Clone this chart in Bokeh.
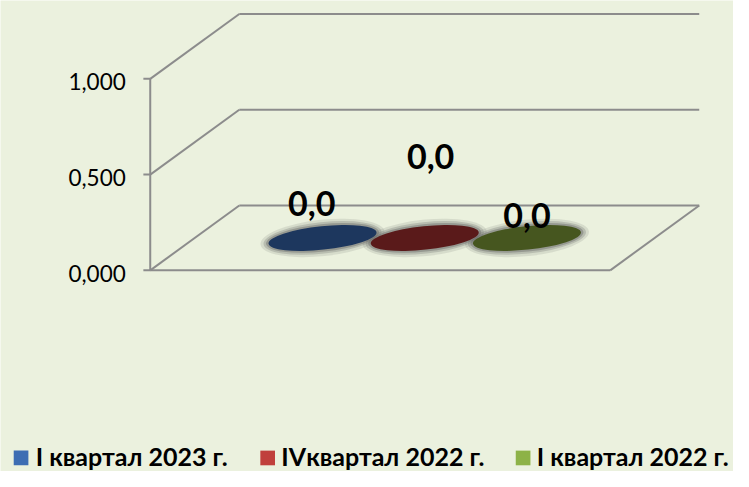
import math
from bokeh.plotting import figure
from bokeh.models import Range1d
from bokeh.core.properties import value
from bokeh.embed import file_html
from bokeh.resources import INLINE

# ---------------- data ----------------
series = ["I квартал 2023 г.", "IVквартал 2022 г.", "I квартал 2022 г."]
values = [0.0, 0.0, 0.0]
data_labels = ["0,0", "0,0", "0,0"]
tick_values = [0.0, 0.5, 1.0]
tick_labels = ["0,000", "0,500", "1,000"]

# ---------------- style ----------------
ellipse_colors = ["#1D375E", "#5A1A1A", "#46561F"]
legend_colors = ["#3D6DB3", "#C0403C", "#8DB247"]
label_dx = [-11, 6, 0]      # px shift of data labels
label_dy = [36, 84, 23]     # px of label centre above cylinder top
legend_square_x = [21, 273, 534]
legend_text_x = [36, 287, 548]

BG = "#EBF1DE"
GRID = "#8C8C8C"

PX_PER_UNIT = 198.0          # reference pixels per value unit
Y0 = 279.0                   # reference y of value 0 on the front plane
FRONT_X0, FRONT_X1 = 153.0, 623.0
DEPTH_DX, DEPTH_DY = 91.0, 67.0
DV = DEPTH_DY / PX_PER_UNIT
V_MAX = max(tick_values)
REF_W, REF_H = 749.0, 487.0

W, H = 733, 471
S = W / REF_W   # screen scale

def pv(px):
    """convert a reference y pixel to value units"""
    return (Y0 - px) / PX_PER_UNIT

p = figure(width=W, height=H, output_backend="svg", toolbar_location=None,
           title=None,
           x_range=Range1d(0, REF_W), y_range=Range1d(pv(REF_H), pv(0)),
           x_axis_type=None, y_axis_type=None, min_border=0,
           background_fill_color=BG, border_fill_color=BG, outline_line_color=None)
p.grid.visible = False

# ---------------- walls / gridlines ----------------
x0s, y0s, x1s, y1s = [], [], [], []
for t in tick_values:
    x0s.append(FRONT_X0); y0s.append(t)
    x1s.append(FRONT_X0 + DEPTH_DX); y1s.append(t + DV)
    x0s.append(FRONT_X0 + DEPTH_DX); y0s.append(t + DV)
    x1s.append(FRONT_X1 + DEPTH_DX); y1s.append(t + DV)
x0s += [FRONT_X0, FRONT_X1]; y0s += [0.0, 0.0]
x1s += [FRONT_X1, FRONT_X1 + DEPTH_DX]; y1s += [0.0, DV]
x0s.append(FRONT_X0); y0s.append(0.0); x1s.append(FRONT_X0); y1s.append(V_MAX)
for t in tick_values:
    x0s.append(FRONT_X0 - 7); y0s.append(t); x1s.append(FRONT_X0); y1s.append(t)
p.segment(x0=x0s, y0=y0s, x1=x1s, y1=y1s, line_color=GRID, line_width=2)

# tick labels
p.text(x=[FRONT_X0 - 25] * len(tick_values), y=[t - 3 / PX_PER_UNIT for t in tick_values],
       text=tick_labels, text_font=value("Lato"), text_font_size="22.5px",
       text_align="right", text_baseline="middle", text_color="#000000")

# ---------------- cylinders (zero height -> flat ellipses) ----------------
n = len(series)
slot = (FRONT_X1 - FRONT_X0) / (n + 1.5)
cx = [FRONT_X0 + 0.75 * slot + (i + 0.5) * slot + DEPTH_DX / 2 for i in range(n)]
cy = [v + DV / 2 for v in values]
ang = math.radians(6)
EW, EH = 111 * S, 24 * S

for dw, dh, a in [(16, 13, 0.14), (10, 8, 0.25), (5, 4, 0.38)]:
    p.ellipse(x=cx, y=cy, width=EW + dw, height=EH + dh, angle=ang,
              width_units="screen", height_units="screen",
              fill_color="#5E5E5E", fill_alpha=a, line_color=None)
p.ellipse(x=cx, y=cy, width=EW, height=EH, angle=ang,
          width_units="screen", height_units="screen",
          fill_color=ellipse_colors, line_color=None)

# data labels
p.text(x=[c + d for c, d in zip(cx, label_dx)],
       y=[c + d / PX_PER_UNIT for c, d in zip(cy, label_dy)],
       text=data_labels, text_font=value("Lato"), text_font_style="bold",
       text_font_size="34px", text_align="center", text_baseline="middle",
       text_color="#000000")

# ---------------- legend ----------------
p.rect(x=legend_square_x, y=[pv(473)] * n, width=15 * S, height=15 * S,
       width_units="screen", height_units="screen",
       fill_color=legend_colors, line_color=None)
p.text(x=legend_text_x, y=[pv(471)] * n, text=series, text_font=value("Lato"),
       text_font_style="bold", text_font_size="25px", text_align="left",
       text_baseline="middle", text_color="#000000")

open("out.html", "w").write(file_html(p, INLINE))
